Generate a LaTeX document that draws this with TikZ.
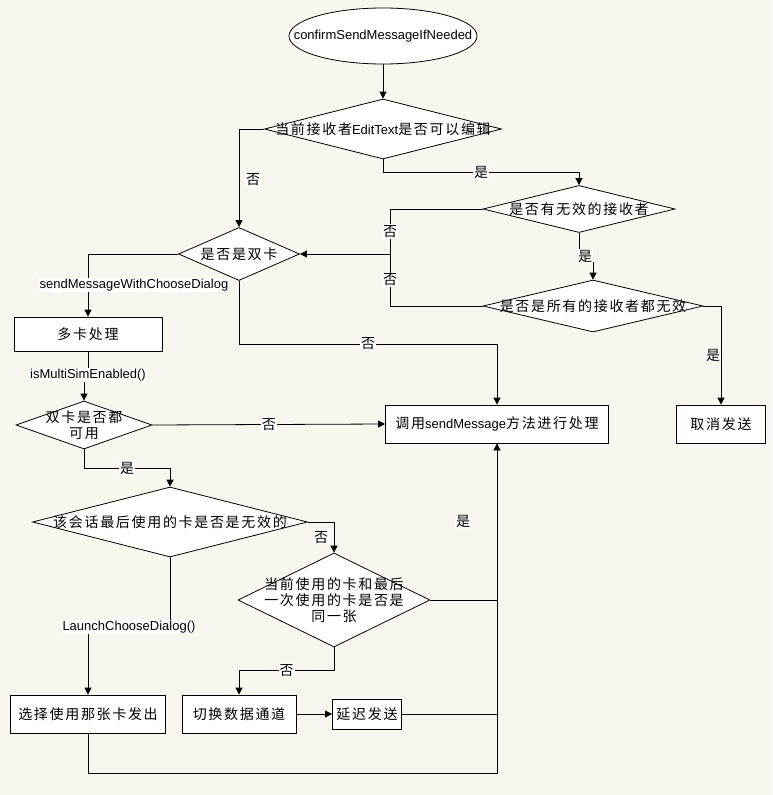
\documentclass[tikz,border=0pt]{standalone}
\usepackage{fontspec}
\setmainfont{Liberation Sans}
\newfontfamily\cjk[LetterSpace=12]{Noto Sans CJK SC}
\usetikzlibrary{arrows.meta,shapes.geometric}
\definecolor{paper}{HTML}{F8F6EF}
\newcommand\ltxt[1]{{\rmfamily\fontsize{13}{16}\selectfont #1}}

\begin{document}
\begin{tikzpicture}[x=1pt,y=-1pt,
  font=\cjk\fontsize{14}{16}\selectfont,
  line width=0.8pt,
  arr/.style={-{Triangle[length=7pt,width=7pt]}},
  box/.style={draw,fill=white,rectangle,inner sep=0pt},
  dia/.style={draw,fill=white,diamond,inner sep=0pt},
  lbl/.style={fill=white,inner sep=1pt},
  lat/.style={font=\rmfamily\fontsize{13}{15}\selectfont},
]
\path[use as bounding box,fill=paper] (0,0) rectangle (772,795);

% start and first test
\node[ellipse,draw,fill=white,inner sep=0pt,minimum width=188pt,minimum height=56pt,
  label={[lat]center:confirmSendMessageIfNeeded}] (start) at (383,36) {};
\node[dia,minimum width=237pt,minimum height=60pt,label=center:{当前接收者\ltxt{EditText}是否可以编辑}] (d1) at (383,129) {};
\node[dia,minimum width=121pt,minimum height=53pt,label=center:{是否是双卡}] (d2) at (239,254) {};
\node[dia,minimum width=192pt,minimum height=47pt,label=center:{是否有无效的接收者}] (d3) at (579,209) {};
\node[dia,minimum width=220pt,minimum height=52pt,label=center:{是否是所有的接收者都无效}] (d4) at (593,306) {};

% boxes
\node[box,minimum width=148pt,minimum height=34pt] (multi) at (88,334) {多卡处理};
\node[box,minimum width=223pt,minimum height=38pt] (call) at (497,424) {调用\ltxt{sendMessage}方法进行处理};
\node[box,minimum width=89pt,minimum height=38pt] (cancel) at (721,424) {取消发送};
\node[box,minimum width=155pt,minimum height=38pt] (sel) at (88,714) {选择使用那张卡发出};
\node[box,minimum width=114pt,minimum height=38pt] (switch) at (239,714) {切换数据通道};
\node[box,minimum width=69pt,minimum height=30pt] (delay) at (367,714) {延迟发送};

% multi sim part
\node[dia,minimum width=136pt,minimum height=48pt,label={[align=center]center:{双卡是否都\\可用}}] (d5) at (84,425) {};
\node[dia,minimum width=275pt,minimum height=70pt,label=center:{该会话最后使用的卡是否是无效的}] (d6) at (170,522) {};
\node[dia,minimum width=192pt,minimum height=94pt,label={[align=center]center:{当前使用的卡和最后\\一次使用的卡是否是\\同一张}}] (d7) at (334,600) {};

\draw[arr] (start) -- (d1);
\draw[arr] (d1.west) -| node[lbl,pos=0.76,xshift=14pt]{否} (d2.north);
\draw[arr] (d1.south) -- ++(0,13) -| node[lbl,pos=0.25]{是} (d3.north);
\coordinate (jn) at (390,254);
\draw (d3.west) -| node[lbl,pos=0.75]{否} (jn);
\draw (d4.west) -| node[lbl,pos=0.75]{否} (jn);
\draw[arr] (jn) -- (d2.east);
\draw[arr] (d3.south) -- node[lbl,pos=0.8,xshift=6pt]{是} ++(0,29) -| (d4.north);
\draw[arr] (d4.east) -| node[lbl,pos=0.75,xshift=-8pt]{是} (cancel.north);
\draw[arr] (d2.west) -| node[lbl,lat,pos=0.75,xshift=46pt]{sendMessageWithChooseDialog} (multi.north);
\draw[arr] (d2.south) -- ++(0,63) -| node[lbl,pos=0.25]{否} (call.north);
\draw[arr] (multi.south) -- ++(0,24) node[lbl,lat]{isMultiSimEnabled()} -| (d5.north);
\draw[arr] (d5.east) -- node[lbl]{否} (call.west);
\draw[arr] (d5.south) -- ++(0,19) -| node[lbl,pos=0.25]{是} (d6.north);
\draw[arr] (d6.east) -| node[lbl,pos=0.75,xshift=-13pt]{否} (d7.north);
\draw[arr] (d6.south) -- ++(0,70) -| node[lbl,lat,pos=0.25]{LaunchChooseDialog()} (sel.north);
\draw[arr] (d7.south) -- ++(0,23) -| node[lbl,pos=0.25]{否} (switch.north);
\draw[arr] (switch) -- (delay);
\draw[arr] (sel.south) -- ++(0,40) -| (call.south);
\draw (delay.east) -- (delay.east -| call.south);
\draw (d7.east) -| node[lbl,pos=0.75,xshift=-34pt]{是} (call.south);
\end{tikzpicture}
\end{document}
